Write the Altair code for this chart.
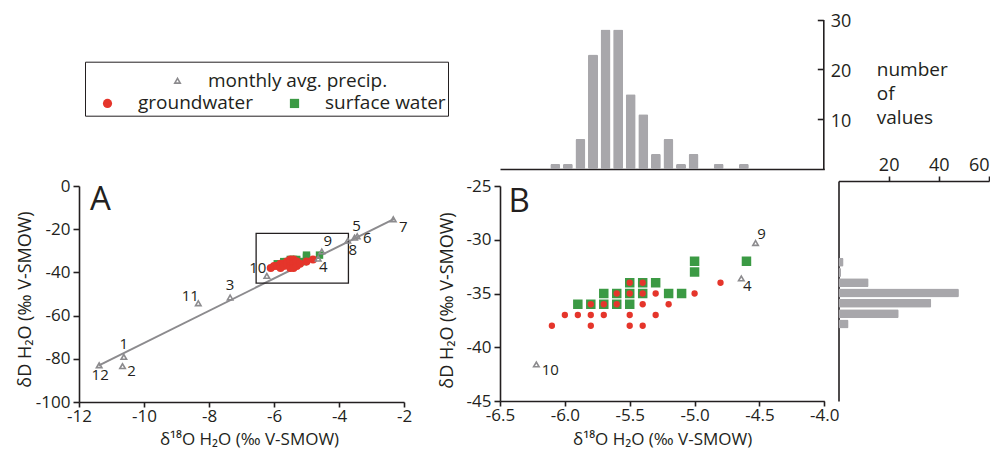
import altair as alt
import pandas as pd

# ---------------- data ----------------
month = [1, 2, 3, 4, 5, 6, 7, 8, 9, 10, 11, 12]
precip_d18O = [-10.62, -10.66, -7.35, -4.64, -3.52, -3.44, -2.33, -3.73, -4.53, -6.22, -8.33, -11.38]
precip_dD = [-79.1, -83.4, -51.6, -33.6, -23.9, -23.3, -15.4, -25.3, -30.3, -41.6, -54.3, -83.0]

lmwl_d18O = [-11.4, -2.3]
lmwl_dD = [-83.2, -15.2]

gw_d18O = [-6.1, -6.0, -5.9, -5.8, -5.8, -5.8, -5.7, -5.7, -5.6, -5.6, -5.5, -5.5,
           -5.5, -5.5, -5.4, -5.4, -5.4, -5.4, -5.3, -5.3, -5.2, -5.0, -4.8]
gw_dD = [-38, -37, -37, -36, -37, -38, -36, -37, -35, -36, -34, -35,
         -37, -38, -34, -35, -36, -38, -35, -37, -36, -35, -34]

sw_d18O = [-5.9, -5.8, -5.7, -5.7, -5.6, -5.6, -5.5, -5.5, -5.5, -5.4, -5.4, -5.3,
           -5.2, -5.1, -5.0, -5.0, -4.6]
sw_dD = [-36, -36, -35, -36, -35, -36, -34, -35, -36, -34, -35, -34,
         -35, -35, -32, -33, -32]

hist_d18O_bins = [-6.1, -6.0, -5.9, -5.8, -5.7, -5.6, -5.5, -5.4, -5.3, -5.2, -5.1, -5.0, -4.8, -4.6]
hist_d18O_counts = [1, 1, 6, 23, 28, 28, 15, 11, 3, 6, 1, 3, 1, 1]

hist_dD_bins = [-32, -33, -34, -35, -36, -37, -38]
hist_dD_counts = [2, 1, 12, 48, 37, 24, 4]

box_d18O = [-6.55, -3.71]
box_dD = [-45.0, -21.9]

# ---------------- styling ----------------
FONT = "Open Sans"
INK = "#231f20"
GRAY = "#8c8b8e"
BAR = "#a8a7ab"
RED = "#e5352b"
GREEN = "#3b9a44"
W, H = 982, 441

XTITLE = "δ¹⁸O H₂O (‰ V-SMOW)"
YTITLE = "δD H₂O (‰ V-SMOW)"
MINUS = "replace(datum.label, '\u2212', '-')"

# month-label placement (dx, dy)
lab_A = {12: (1, 10), 1: (0, -13), 2: (9, 5), 11: (-8, -7), 3: (0, -12), 10: (-9, -8),
         4: (5, 8), 9: (6, -10), 8: (5, 9), 5: (2, -12), 6: (10, 2), 7: (10, 8)}
lab_B = {10: (14, 6), 4: (6, 8), 9: (6, -9)}

# ---------------- tables ----------------
precip = pd.DataFrame({"month": month, "d18O": precip_d18O, "dD": precip_dD})
precip["ptype"] = "monthly avg. precip."
lmwl = pd.DataFrame({"d18O": lmwl_d18O, "dD": lmwl_dD})
gw = pd.DataFrame({"d18O": gw_d18O, "dD": gw_dD})
gw["wtype"] = "groundwater"
sw = pd.DataFrame({"d18O": sw_d18O, "dD": sw_dD})
sw["wtype"] = "surface water"
boxdf = pd.DataFrame({"x1": [box_d18O[0]], "x2": [box_d18O[1]], "y1": [box_dD[0]], "y2": [box_dD[1]]})
thist = pd.DataFrame({"d18O": hist_d18O_bins, "n": hist_d18O_counts})
rhist = pd.DataFrame({"dD": hist_dD_bins, "n": hist_dD_counts})


# ---------------- scales ----------------
def sc(dom, rng):
    return alt.Scale(domain=dom, range=rng, nice=False, zero=False)


xA = sc([-12, -2], [71, 396])
yA = sc([-100, 0], [394, 178])
xB = sc([-6.5, -4.0], [492, 816.3])
yB = sc([-45, -25], [393, 178])
xT = sc([-6.5, -4.0], [492, 816.3])
yT = sc([0, 30], [161, 11.5])
xR = sc([0, 60], [830.5, 981])
yR = sc([-45, -24.6], [393, 173])

colorScale = alt.Scale(domain=["groundwater", "surface water"], range=[RED, GREEN])
shapeScale = alt.Scale(domain=["groundwater", "surface water"], range=["circle", "square"])
strokeScale = alt.Scale(domain=["monthly avg. precip."], range=[GRAY])


def axis(**kw):
    base = dict(grid=False, domainColor=INK, domainWidth=1.6, tickColor=INK, tickWidth=1.6,
                tickSize=6, labelFont=FONT, labelFontSize=17, labelColor=INK, labelPadding=3,
                labelFlush=False, labelOverlap=False,
                titleFont=FONT, titleFontSize=18, titleColor=INK, titleFontWeight="normal")
    base.update(kw)
    return alt.Axis(**base)


L2 = alt.Legend(orient="none", legendX=77, legendY=53.7, direction="horizontal",
                title="\u00a0", titleFontSize=16, titlePadding=14,
                padding=2, strokeColor=INK, symbolSize=85, symbolOffset=11, labelOffset=21,
                columnPadding=21, labelFont=FONT, labelFontSize=19, labelColor=INK,
                labelLimit=400, symbolStrokeWidth=0)
L1 = alt.Legend(orient="none", legendX=160, legendY=63.3, title=None, padding=0,
                symbolType="triangle-up", symbolSize=30, symbolStrokeWidth=1.6,
                symbolStrokeColor=GRAY, symbolFillColor="transparent", labelOffset=21,
                labelFont=FONT, labelFontSize=19, labelColor=INK, labelLimit=400)


def XY(xs, ys, ax=None, ay=None, xf="d18O:Q", yf="dD:Q"):
    return dict(x=alt.X(xf, scale=xs, axis=ax), y=alt.Y(yf, scale=ys, axis=ay))


def panel_layers(xs, ys, sizes, labels, letter, corner, letter_dxdy, flt=None, with_legend=False):
    def base(df):
        c = alt.Chart(df)
        if flt is not None:
            c = c.transform_filter(flt)
        return c

    out = []
    out.append(alt.Chart(sw).mark_point(filled=True, opacity=1, size=sizes[1], strokeWidth=0).encode(
        **XY(xs, ys),
        color=alt.Color("wtype:N", scale=colorScale, legend=L2 if with_legend else None),
        shape=alt.Shape("wtype:N", scale=shapeScale, legend=L2 if with_legend else None),
    ))
    out.append(alt.Chart(gw).mark_point(filled=True, opacity=1, size=sizes[0], strokeWidth=0).encode(
        **XY(xs, ys),
        color=alt.Color("wtype:N", scale=colorScale, legend=None),
        shape=alt.Shape("wtype:N", scale=shapeScale, legend=None),
    ))
    out.append(base(precip).mark_point(shape="triangle-up", filled=False, size=30, strokeWidth=1.6,
                                       opacity=1).encode(
        **XY(xs, ys),
        stroke=alt.Stroke("ptype:N", scale=strokeScale, legend=L1 if with_legend else None),
    ))
    for m, (dx, dy) in labels.items():
        out.append(
            alt.Chart(precip).transform_filter(alt.datum.month == m)
            .mark_text(dx=dx, dy=dy, font=FONT, fontSize=15, color=INK)
            .encode(**XY(xs, ys), text="month:N")
        )
    out.append(
        alt.Chart(pd.DataFrame({"panel": [letter]}))
        .mark_text(align="left", baseline="top", dx=letter_dxdy[0], dy=letter_dxdy[1],
                   font=FONT, fontSize=33, color=INK)
        .encode(x=alt.X(datum=corner[0], scale=xs, axis=None),
                y=alt.Y(datum=corner[1], scale=ys, axis=None), text="panel:N")
    )
    return out


# ---- panel A ----
axA_x = axis(orient="bottom", offset=-(H - 394), values=[-12, -10, -8, -6, -4, -2],
             tickSize=5, labelPadding=1, labelExpr=MINUS, title=XTITLE, titleFontSize=17,
             titleX=241, titleY=37.5, titleBaseline="middle")
axA_y = axis(orient="left", offset=-71, values=[-100, -80, -60, -40, -20, 0], labelExpr=MINUS,
             title=YTITLE, titleX=-54, titleY=291, titleBaseline="middle")

layers = []
layers.append(alt.Chart(lmwl).mark_line(color=GRAY, strokeWidth=2).encode(
    **XY(xA, yA, ax=axA_x, ay=axA_y)))
layers.append(alt.Chart(boxdf).mark_rect(fillOpacity=0, stroke=INK, strokeWidth=1.3).encode(
    x=alt.X("x1:Q", scale=xA, axis=None), x2="x2:Q",
    y=alt.Y("y1:Q", scale=yA, axis=None), y2="y2:Q"))
layers += panel_layers(xA, yA, (65, 55), lab_A, "A", (-12, 0), (11, -2), with_legend=True)

# ---- panel B ----
axB_x = axis(orient="bottom", offset=-(H - 393), values=[-6.5, -6.0, -5.5, -5.0, -4.5, -4.0],
             tickSize=5, labelPadding=1, format=".1f", labelExpr=MINUS, title=XTITLE,
             titleFontSize=17, titleY=38.5, titleBaseline="middle")
axB_y = axis(orient="left", offset=-492, values=[-45, -40, -35, -30, -25], labelExpr=MINUS,
             title=YTITLE, titleX=-53, titleY=292, titleBaseline="middle")
inB = ((alt.datum.d18O >= -6.5) & (alt.datum.d18O <= -4.0) &
       (alt.datum.dD >= -45) & (alt.datum.dD <= -25))

# axis carrier for panel B (same surface-water data, invisible)
layers.append(alt.Chart(sw).mark_point(opacity=0).encode(**XY(xB, yB, ax=axB_x, ay=axB_y)))
layers += panel_layers(xB, yB, (40, 90), lab_B, "B", (-6.5, -25), (8.5, 0), flt=inB)

# ---- top histogram ----
axT_x = axis(orient="bottom", offset=-(H - 161), ticks=False, labels=False, title=None)
axT_y = axis(orient="left", offset=-815.3, values=[10, 20, 30], labelAlign="left",
             labelPadding=-13, labelOffset=2, labelFontSize=18,
             title=["number", "of", "values"], titleAngle=0,
             titleAlign="left", titleBaseline="top", titleX=53, titleY=52,
             titleLineHeight=24, titleFontSize=19)
layers.append(alt.Chart(thist).mark_bar(orient="vertical", size=10, color=BAR, cornerRadius=1.5).encode(
    x=alt.X("d18O:Q", scale=xT, axis=axT_x), y=alt.Y("n:Q", scale=yT, axis=axT_y)))

# ---- right histogram ----
axR_x = axis(orient="top", offset=-173, values=[20, 40, 60], tickSize=5, labelPadding=2,
             labelFontSize=18, labelFlush=True, title=None)
axR_y = axis(orient="left", offset=-830.5, ticks=False, labels=False, title=None)
layers.append(alt.Chart(rhist).mark_bar(orient="horizontal", size=9, color=BAR, cornerRadius=1.5).encode(
    x=alt.X("n:Q", scale=xR, axis=axR_x), y=alt.Y("dD:Q", scale=yR, axis=axR_y)))

chart = (
    alt.layer(*layers)
    .resolve_scale(x="independent", y="independent")
    .properties(width=W, height=H, autosize=alt.AutoSizeParams(type="none"), padding=0)
    .configure_view(stroke=None)
)

chart.save("out.html", embed_options={"renderer": "svg", "actions": False})
